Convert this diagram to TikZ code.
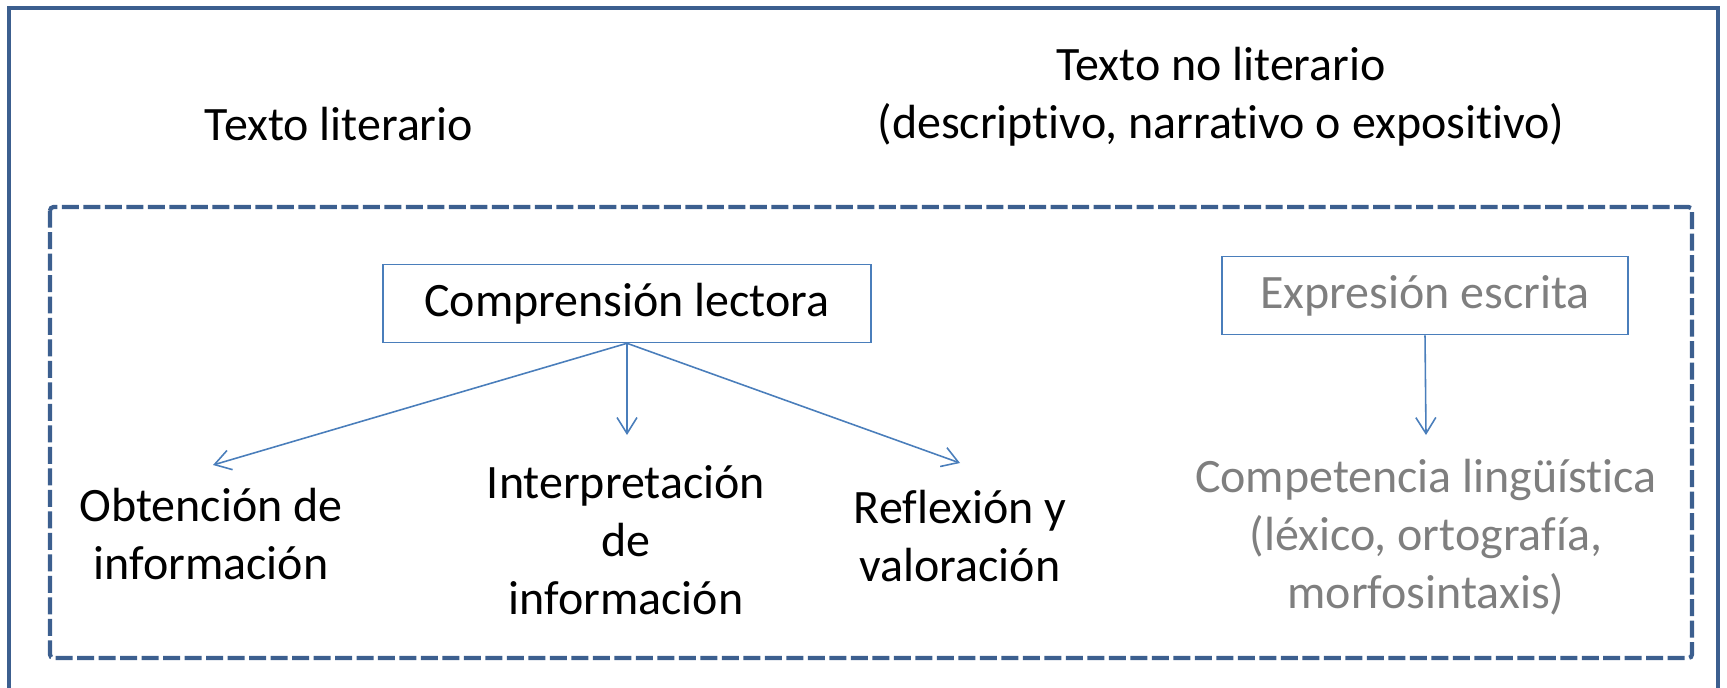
\documentclass[tikz,border=0pt]{standalone}
\usepackage{fontspec}
\setmainfont{Carlito}[Ligatures=NoCommon]
\usepackage{xcolor}
\usetikzlibrary{arrows.meta,positioning}
\definecolor{frameblue}{HTML}{3C5F8F}
\definecolor{linkblue}{HTML}{4A7EBB}
\definecolor{softgray}{HTML}{7F7F7F}

\begin{document}
\begin{tikzpicture}[x=0.02cm,y=-0.02cm,
    lbl/.style={align=center,font=\fontsize{27.3}{33}\selectfont},
    box/.style={lbl,draw=linkblue,line width=0.9pt,minimum height=1.56cm},
    link/.style={draw=linkblue,line width=0.9pt,-{Straight Barb[length=0.32cm,width=0.4cm]}}]
    \useasboundingbox (0,0) rectangle (1727,687);
    % frames
    \draw[frameblue,line width=2.4pt] (9,700) -- (9,8) -- (1718,8) -- (1718,700);
    \draw[frameblue,line width=2.4pt,dash pattern=on 0.34cm off 0.09cm,rounded corners=2pt]
      (50,207) rectangle (1692,658);
    % headings
    \node[lbl] (lit) at (339,124) {Texto literario};
    \node[lbl] (nolit) at (1221,97) {Texto no literario\\(descriptivo, narrativo o expositivo)};
    % boxes
    \node[box,minimum width=9.76cm] (compr) at (627,303.5) {Comprensi\'on lectora};
    \node[box,minimum width=8.12cm,text=softgray] (expr) at (1425,295.5) {Expresi\'on escrita};
    % lower labels
    \node[lbl] (obt) at (211,534) {Obtenci\'on de\\informaci\'on};
    \node[lbl] (interp) at (626,540) {Interpretaci\'on\\de\\informaci\'on};
    \node[lbl] (refl) at (960,536) {Reflexi\'on y\\valoraci\'on};
    \node[lbl,text=softgray] (compet) at (1426,537) {Competencia ling\"u\'istica\\(l\'exico, ortograf\'ia,\\morfosintaxis)};
    % arrow tips
    \coordinate (obt tip) at (213,465);
    \coordinate (interp tip) at (627,435);
    \coordinate (refl tip) at (960,463);
    \coordinate (compet tip) at (1426,435);
    \draw[link] (compr.south) -- (obt tip);
    \draw[link] (compr.south) -- (interp tip);
    \draw[link] (compr.south) -- (refl tip);
    \draw[link] (expr.south) -- (compet tip);
\end{tikzpicture}
\end{document}
